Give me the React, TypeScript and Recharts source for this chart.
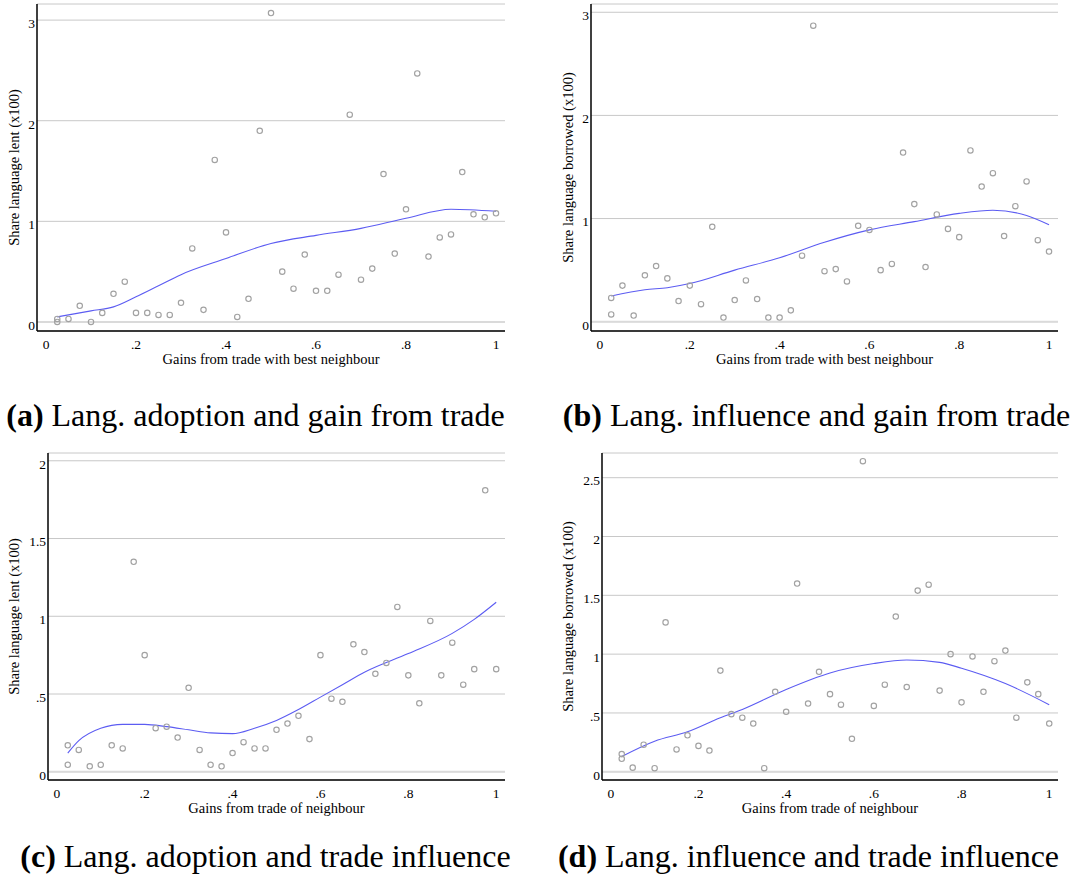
import React from "react";
import {
  ComposedChart,
  Scatter,
  Line,
  XAxis,
  YAxis,
  CartesianGrid,
  ReferenceLine,
} from "recharts";

// gain-from-trade bins (two observations share the first bin)
const binX = [
  0.025, 0.025, 0.05, 0.075, 0.1, 0.125, 0.15, 0.175, 0.2, 0.225, 0.25, 0.275, 0.3, 0.325,
  0.35, 0.375, 0.4, 0.425, 0.45, 0.475, 0.5, 0.525, 0.55, 0.575, 0.6, 0.625, 0.65, 0.675,
  0.7, 0.725, 0.75, 0.775, 0.8, 0.825, 0.85, 0.875, 0.9, 0.925, 0.95, 0.975, 1.0,
];

const lentBest = [
  0.03, 0.0, 0.03, 0.16, 0.0, 0.09, 0.28, 0.4, 0.09, 0.09, 0.07, 0.07, 0.19, 0.73, 0.12,
  1.61, 0.89, 0.05, 0.23, 1.9, 3.07, 0.5, 0.33, 0.67, 0.31, 0.31, 0.47, 2.06, 0.42, 0.53,
  1.47, 0.68, 1.12, 2.47, 0.65, 0.84, 0.87, 1.49, 1.07, 1.04, 1.08,
];
const borrowedBest = [
  0.23, 0.07, 0.35, 0.06, 0.45, 0.54, 0.42, 0.2, 0.35, 0.17, 0.92, 0.04, 0.21, 0.4, 0.22,
  0.04, 0.04, 0.11, 0.64, 2.87, 0.49, 0.51, 0.39, 0.93, 0.89, 0.5, 0.56, 1.64, 1.14, 0.53,
  1.04, 0.9, 0.82, 1.66, 1.31, 1.44, 0.83, 1.12, 1.36, 0.79, 0.68,
];
const lentNeighbour = [
  0.17, 0.045, 0.14, 0.035, 0.045, 0.17, 0.15, 1.35, 0.75, 0.28, 0.29, 0.22, 0.54, 0.14,
  0.045, 0.035, 0.12, 0.19, 0.15, 0.15, 0.27, 0.31, 0.36, 0.21, 0.75, 0.47, 0.45, 0.82,
  0.77, 0.63, 0.7, 1.06, 0.62, 0.44, 0.97, 0.62, 0.83, 0.56, 0.66, 1.81, 0.66,
];
const borrowedNeighbour = [
  0.15, 0.11, 0.035, 0.23, 0.03, 1.27, 0.19, 0.31, 0.22, 0.18, 0.86, 0.49, 0.46, 0.41, 0.03,
  0.68, 0.51, 1.6, 0.58, 0.85, 0.66, 0.57, 0.28, 2.64, 0.56, 0.74, 1.32, 0.72, 1.54, 1.59,
  0.69, 1.0, 0.59, 0.98, 0.68, 0.94, 1.03, 0.46, 0.76, 0.66, 0.41,
];

// smoothed fits
const fitAX = [0.025, 0.1, 0.15, 0.2, 0.25, 0.3, 0.4, 0.5, 0.6, 0.7, 0.8, 0.9, 1.0];
const fitAY = [0.05, 0.11, 0.15, 0.25, 0.36, 0.47, 0.63, 0.78, 0.86, 0.93, 1.03, 1.12, 1.1];
const fitBX = [0.025, 0.1, 0.15, 0.2, 0.3, 0.4, 0.5, 0.6, 0.7, 0.8, 0.875, 0.95, 1.0];
const fitBY = [0.25, 0.31, 0.33, 0.37, 0.5, 0.62, 0.77, 0.89, 0.97, 1.05, 1.08, 1.03, 0.94];
const fitCX = [
  0.025, 0.05, 0.1, 0.15, 0.2, 0.25, 0.3, 0.35, 0.4, 0.45, 0.5, 0.55, 0.6, 0.65, 0.7, 0.8,
  0.9, 0.95, 1.0,
];
const fitCY = [
  0.12, 0.2, 0.28, 0.305, 0.305, 0.29, 0.27, 0.25, 0.245, 0.28, 0.33, 0.4, 0.48, 0.56, 0.64,
  0.76, 0.89, 0.98, 1.09,
];
const fitDX = [0.025, 0.1, 0.175, 0.25, 0.3, 0.4, 0.5, 0.6, 0.675, 0.75, 0.8, 0.9, 1.0];
const fitDY = [0.13, 0.26, 0.34, 0.46, 0.53, 0.7, 0.84, 0.92, 0.95, 0.93, 0.88, 0.75, 0.57];

const xTicks = [0, 0.2, 0.4, 0.6, 0.8, 1];
const yTicksWhole = [0, 1, 2, 3];
const yTicksHalfC = [0, 0.5, 1, 1.5, 2];
const yTicksHalfD = [0, 0.5, 1, 1.5, 2, 2.5];

const SERIF = "'Liberation Serif', 'Times New Roman', serif";
const fmt = (v: number) => (v > 0 && v < 1 ? String(v).replace(/^0/, "") : String(v));

const zip = (xs: number[], ys: number[]) => xs.map((x, i) => ({ x, y: ys[i] }));

const Dot = (props: any) => (
  <circle cx={props.cx} cy={props.cy} r={2.7} fill="none" stroke="#a2a2a2" strokeWidth={1.15} />
);

interface PanelProps {
  left: number;
  top: number;
  width: number;
  yAxisWidth: number;
  marginTop: number;
  marginBottom: number;
  titleX: number;
  ys: number[];
  fitX: number[];
  fitY: number[];
  yDomain: [number, number];
  yTicks: number[];
  yTitle: string;
  xTitle: string;
}

const HEIGHT = 380;
const X_AXIS_H = 40;

function Panel(p: PanelProps) {
  const points = zip(binX, p.ys);
  const fit = zip(p.fitX, p.fitY);
  const plotTop = p.marginTop;
  const plotBottom = HEIGHT - p.marginBottom - X_AXIS_H;
  const plotLeft = p.yAxisWidth;
  const plotRight = p.width - 12;
  const midY = (plotTop + plotBottom) / 2;
  const midX = (plotLeft + plotRight) / 2;

  return (
    <div style={{ position: "absolute", left: p.left, top: p.top }}>
      <ComposedChart
        width={p.width}
        height={HEIGHT}
        margin={{ top: p.marginTop, right: 12, bottom: p.marginBottom, left: 0 }}
      >
        <CartesianGrid vertical={false} stroke="#c8c8c8" />
        <ReferenceLine y={0} stroke="#dadada" strokeWidth={2} />
        <XAxis
          type="number"
          dataKey="x"
          domain={[-0.02, 1.02]}
          ticks={xTicks}
          tickFormatter={fmt}
          allowDataOverflow
          height={X_AXIS_H}
          tickLine={false}
          tickSize={0}
          tickMargin={8}
          axisLine={{ stroke: "#000", strokeWidth: 1.5 }}
          tick={{ fontSize: 13.5, fill: "#000", fontFamily: SERIF }}
          label={{
            content: () => (
              <text
                x={midX}
                y={plotBottom + 33}
                textAnchor="middle"
                fontSize={14.5}
                fontFamily={SERIF}
                fill="#000"
              >
                {p.xTitle}
              </text>
            ),
          }}
        />
        <YAxis
          type="number"
          dataKey="y"
          domain={p.yDomain}
          ticks={p.yTicks}
          tickFormatter={fmt}
          allowDataOverflow
          width={p.yAxisWidth}
          tickLine={false}
          tickSize={0}
          tickMargin={2}
          axisLine={{ stroke: "#000", strokeWidth: 1.5 }}
          tick={{ fontSize: 13.5, fill: "#000", fontFamily: SERIF, dy: 3 }}
          label={{
            content: () => (
              <text
                x={p.titleX}
                y={midY}
                transform={`rotate(-90, ${p.titleX}, ${midY})`}
                textAnchor="middle"
                dominantBaseline="central"
                fontSize={14.5}
                fontFamily={SERIF}
                fill="#000"
              >
                {p.yTitle}
              </text>
            ),
          }}
        />
        <Scatter data={points} shape={Dot} isAnimationActive={false} />
        <Line
          data={fit}
          dataKey="y"
          type="monotone"
          stroke="#5c5cf2"
          strokeWidth={1.1}
          dot={false}
          activeDot={false}
          isAnimationActive={false}
        />
      </ComposedChart>
    </div>
  );
}

const captionStyle = (center: number, top: number): React.CSSProperties => ({
  position: "absolute",
  left: center - 300,
  top,
  width: 600,
  textAlign: "center",
  fontFamily: SERIF,
  fontSize: 32,
  lineHeight: "32px",
  whiteSpace: "nowrap",
  color: "#000",
});

export default function App() {
  return (
    <div
      style={{
        position: "absolute",
        left: 0,
        top: 0,
        width: 1080,
        height: 887,
        background: "#fff",
        overflow: "hidden",
      }}
    >
      <Panel
        left={0}
        top={0}
        width={517}
        yAxisWidth={37}
        marginTop={4}
        marginBottom={9}
        titleX={14}
        ys={lentBest}
        fitX={fitAX}
        fitY={fitAY}
        yDomain={[-0.09, 3.16]}
        yTicks={yTicksWhole}
        yTitle="Share language lent (x100)"
        xTitle="Gains from trade with best neighbour"
      />
      <Panel
        left={540}
        top={0}
        width={530}
        yAxisWidth={51}
        marginTop={4}
        marginBottom={9}
        titleX={27.5}
        ys={borrowedBest}
        fitX={fitBX}
        fitY={fitBY}
        yDomain={[-0.09, 3.08]}
        yTicks={yTicksWhole}
        yTitle="Share language borrowed (x100)"
        xTitle="Gains from trade with best neighbour"
      />
      <Panel
        left={0}
        top={445}
        width={517}
        yAxisWidth={48}
        marginTop={8}
        marginBottom={5}
        titleX={14}
        ys={lentNeighbour}
        fitX={fitCX}
        fitY={fitCY}
        yDomain={[-0.053, 2.05]}
        yTicks={yTicksHalfC}
        yTitle="Share language lent (x100)"
        xTitle="Gains from trade of neighbour"
      />
      <Panel
        left={540}
        top={445}
        width={530}
        yAxisWidth={62}
        marginTop={8}
        marginBottom={5}
        titleX={27.5}
        ys={borrowedNeighbour}
        fitX={fitDX}
        fitY={fitDY}
        yDomain={[-0.07, 2.71]}
        yTicks={yTicksHalfD}
        yTitle="Share language borrowed (x100)"
        xTitle="Gains from trade of neighbour"
      />

      <div style={captionStyle(255.5, 399)}>
        <b>(a)</b> Lang. adoption and gain from trade
      </div>
      <div style={captionStyle(816.5, 399)}>
        <b>(b)</b> Lang. influence and gain from trade
      </div>
      <div style={captionStyle(265.5, 840)}>
        <b>(c)</b> Lang. adoption and trade influence
      </div>
      <div style={captionStyle(808.5, 840)}>
        <b>(d)</b> Lang. influence and trade influence
      </div>
    </div>
  );
}
